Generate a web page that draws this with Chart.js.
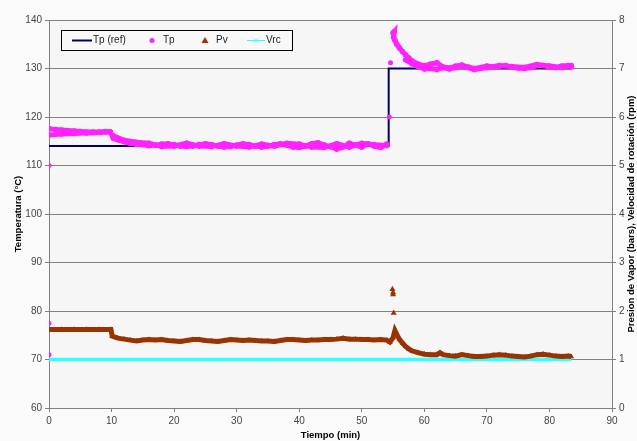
<!DOCTYPE html>
<html>
<head>
<meta charset="utf-8">
<script src="https://cdn.jsdelivr.net/npm/chart.js@4/dist/chart.umd.min.js"></script>
<style>
  body { margin: 0; background: #fafafa; }
  #wrap { width: 637px; height: 441px; }
</style>
</head>
<body>
<div id="wrap"><canvas id="tempChart"></canvas></div>
<script>
// Tp (ref) - set point
const refTime = [0, 54.2, 54.2, 54.35, 54.35, 83.5];
const refTemp = [114, 114, 122, 122, 130, 130];

// Tp - measured temperature (null = break between tracks)
const tpTime = [
  0, 1, 2, 3, 4, 5, 6, 7, 8, 9, 9.8, null,
  0, 2, 4, 6, 8, 9.8, 10.3, 11, 12, 13, 14, 15, 16, 17, 18, 19, 20, 21, 22, 23, 24, 25, 26, 27, 28, 29, 30,
  31, 32, 33, 34, 35, 36, 37, 38, 39, 40, 41, 42, 43, 44, 45, 46, 47, 48, 49, 50, 51, 52, 53, 54, null,
  10.2, 12, 14, 16, 18, 20, 22, 24, 26, 28, 30, 32, 34, 36, 38, 40, 42, 44, 46, 48, 50, 52, 54, null,
  55.0, 55.2, 55.1, 55.3, 55.6, 56, 56.5, 57, 57.5, 58, 58.5, 59, 60, 61, 62, 63, 64, 65, 66, 67, 68, 69, 70,
  71, 72, 73, 74, 75, 76, 77, 78, 79, 80, 81, 82, 83, 83.5, null,
  57, 58, 59, 60, 61, 62, 63, 64, 65, 66, 68, 70, 72, 74, 76, 78, 80, 82, 83.5
];
const tpTemp = [
  117.6, 117.4, 117.3, 117.2, 117.1, 117.0, 116.9, 116.9, 116.9, 117.0, 116.9, null,
  116.3, 116.5, 116.6, 116.7, 116.8, 116.9, 115.6, 115.3, 114.9, 114.6, 114.4, 114.3, 114.1, 114.2, 114.4, 114.5, 114.3, 114.0, 113.9, 114.0, 114.3, 114.5, 114.3, 114.0, 113.8, 113.9, 114.2,
  114.5, 114.3, 114.0, 113.8, 114.0, 114.3, 114.5, 114.2, 113.8, 113.7, 114.0, 114.5, 114.7, 114.2, 113.9, 113.4, 113.8, 114.6, 114.2, 113.8, 114.5, 114.0, 113.7, 114.4, null,
  116.2, 115.2, 114.8, 114.6, 113.9, 114.0, 114.6, 114.0, 113.9, 114.5, 114.0, 113.8, 114.4, 114.0, 114.6, 114.4, 113.8, 113.7, 114.5, 113.8, 114.6, 114.3, 114.1, null,
  137.3, 137.6, 136.4, 135.8, 135.0, 134.3, 133.5, 132.8, 132.2, 131.6, 131.2, 130.9, 130.6, 130.9, 131.2, 130.3, 130.1, 130.5, 130.7, 130.3, 130.0, 130.2, 130.5,
  130.3, 130.5, 130.6, 130.3, 130.1, 130.0, 130.2, 130.6, 130.6, 130.3, 130.2, 130.5, 130.6, 130.3, null,
  131.8, 131.0, 130.4, 129.9, 130.0, 129.8, 130.2, 129.9, 130.2, 130.5, 129.8, 130.2, 130.6, 130.4, 130.2, 130.8, 130.5, 130.2, 130.6
];

// Tp - isolated readings
const tpOutTime = [0, 0, 0, 54.4, 54.6];
const tpOutTemp = [110, 77.5, 71, 120, 131.2];

// Pv - vapour pressure (bars)
const pvTime = [
  0, 2, 4, 6, 8, 9.9, 10.1, 11, 12, 13, 14, 15, 16, 17, 18, 19, 20, 21, 22, 23, 24, 25, 26, 27, 28, 29, 30,
  31, 32, 33, 34, 35, 36, 37, 38, 39, 40, 41, 42, 43, 44, 45, 46, 47, 48, 49, 50, 51, 52, 53, 54, 54.5,
  55, 55.3, 55.6, 56, 56.5, 57, 57.5, 58, 59, 60, 61, 62, 62.5, 63, 64, 65, 66, 67, 68, 69, 70,
  71, 72, 73, 74, 75, 76, 77, 78, 79, 80, 81, 82, 83, 83.5
];
const pvBar = [
  1.62, 1.62, 1.62, 1.62, 1.62, 1.62, 1.48, 1.44, 1.42, 1.40, 1.38, 1.40, 1.41, 1.40, 1.41, 1.39, 1.38, 1.37, 1.39, 1.41, 1.41, 1.39, 1.38, 1.37, 1.39, 1.41, 1.40,
  1.39, 1.40, 1.39, 1.38, 1.38, 1.37, 1.39, 1.41, 1.41, 1.40, 1.39, 1.40, 1.40, 1.41, 1.41, 1.42, 1.44, 1.42, 1.42, 1.41, 1.41, 1.40, 1.41, 1.40, 1.36,
  1.45, 1.60, 1.52, 1.42, 1.34, 1.27, 1.22, 1.18, 1.14, 1.11, 1.10, 1.10, 1.14, 1.10, 1.08, 1.07, 1.10, 1.08, 1.06, 1.06, 1.07,
  1.09, 1.10, 1.09, 1.07, 1.06, 1.05, 1.07, 1.10, 1.11, 1.09, 1.07, 1.06, 1.07, 1.06
];

// Pv - spike readings
const pvOutTime = [54.9, 55.0, 55.0, 55.1];
const pvOutBar = [2.45, 2.38, 2.34, 1.96];

// Vrc - rotation speed (rpm)
const vrcTime = [0, 83.5];
const vrcRpm = [1, 1];

const rightTitle = 'Presion de Vapor (bars), Velocidad de rotación (rpm)';

const toXY = (xs, ys) => xs.map((x, i) => ({ x: x, y: ys[i] }));

const FONT = "'Liberation Sans', Arial, sans-serif";
Chart.defaults.font.family = FONT;
Chart.defaults.color = '#444';

const bgPlugin = {
  id: 'bgPlugin',
  beforeDraw(chart) {
    const { ctx, chartArea } = chart;
    ctx.save();
    ctx.fillStyle = '#fafafa';
    ctx.fillRect(0, 0, chart.width, chart.height);
    ctx.fillStyle = '#f6f6f6';
    ctx.fillRect(chartArea.left, chartArea.top, chartArea.right - chartArea.left, chartArea.bottom - chartArea.top);
    ctx.restore();
  }
};

// right axis title reads bottom to top, like the left one
const rightTitlePlugin = {
  id: 'rightTitle',
  afterDraw(chart) {
    const { ctx, chartArea } = chart;
    ctx.save();
    ctx.translate(chart.width - 5.5, (chartArea.top + chartArea.bottom) / 2);
    ctx.rotate(-Math.PI / 2);
    ctx.font = 'bold 9.5px ' + FONT;
    ctx.fillStyle = '#000';
    ctx.textAlign = 'center';
    ctx.textBaseline = 'middle';
    ctx.fillText(rightTitle, 0, 0);
    ctx.restore();
  }
};

// legend box drawn inside the plot, top left
const legendBox = {
  id: 'legendBox',
  afterDraw(chart) {
    const { ctx, chartArea } = chart;
    const ds = chart.data.datasets;
    const x0 = chartArea.left + 12, y0 = chartArea.top + 10;
    const cy = y0 + 10.5;
    ctx.save();
    ctx.fillStyle = '#f8f8f8';
    ctx.fillRect(x0, y0, 231, 20);
    ctx.strokeStyle = '#000';
    ctx.lineWidth = 1;
    ctx.strokeRect(x0 + 0.5, y0 + 0.5, 231, 20);

    ctx.font = '10px ' + FONT;
    ctx.fillStyle = '#222';
    ctx.textBaseline = 'middle';

    // Tp (ref)
    ctx.strokeStyle = ds[0].borderColor;
    ctx.lineWidth = 2;
    ctx.beginPath(); ctx.moveTo(x0 + 11, cy); ctx.lineTo(x0 + 31, cy); ctx.stroke();
    ctx.fillText(ds[0].label, x0 + 32, cy);

    // Tp
    ctx.fillStyle = ds[1].pointBackgroundColor;
    ctx.beginPath(); ctx.arc(x0 + 91, cy, 2.5, 0, Math.PI * 2); ctx.fill();
    ctx.fillStyle = '#222';
    ctx.fillText(ds[1].label, x0 + 102, cy);

    // Pv
    ctx.fillStyle = ds[3].pointBackgroundColor;
    ctx.beginPath();
    ctx.moveTo(x0 + 144, cy - 3.5); ctx.lineTo(x0 + 147.5, cy + 2.5); ctx.lineTo(x0 + 140.5, cy + 2.5);
    ctx.closePath(); ctx.fill();
    ctx.fillStyle = '#222';
    ctx.fillText(ds[3].label, x0 + 155, cy);

    // Vrc
    ctx.strokeStyle = ds[5].borderColor;
    ctx.lineWidth = 1;
    ctx.beginPath(); ctx.moveTo(x0 + 186, cy); ctx.lineTo(x0 + 204, cy); ctx.stroke();
    ctx.beginPath();
    ctx.moveTo(x0 + 193, cy - 2); ctx.lineTo(x0 + 197, cy + 2);
    ctx.moveTo(x0 + 197, cy - 2); ctx.lineTo(x0 + 193, cy + 2);
    ctx.stroke();
    ctx.fillStyle = '#222';
    ctx.fillText(ds[5].label, x0 + 205, cy);
    ctx.restore();
  }
};

const ctx = document.getElementById('tempChart').getContext('2d');

new Chart(ctx, {
  type: 'scatter',
  data: {
    datasets: [{
      label: 'Tp (ref)',
      data: toXY(refTime, refTemp),
      showLine: true,
      borderColor: '#000066',
      borderWidth: 2,
      pointRadius: 0,
      yAxisID: 'y',
      order: 2
    }, {
      label: 'Tp',
      data: toXY(tpTime, tpTemp),
      showLine: true,
      spanGaps: false,
      borderColor: '#ff22ff',
      borderWidth: 5,
      pointRadius: 2.8,
      pointBackgroundColor: '#ff22ff',
      pointBorderWidth: 0,
      yAxisID: 'y',
      order: 1
    }, {
      label: 'Tp',
      data: toXY(tpOutTime, tpOutTemp),
      borderColor: '#ff22ff',
      pointRadius: 2.5,
      pointBackgroundColor: '#ff22ff',
      pointBorderWidth: 0,
      yAxisID: 'y',
      order: 1
    }, {
      label: 'Pv',
      data: toXY(pvTime, pvBar),
      showLine: true,
      borderColor: '#993300',
      borderWidth: 5,
      pointStyle: 'triangle',
      pointRadius: 3.2,
      pointBackgroundColor: '#993300',
      pointBorderWidth: 0,
      yAxisID: 'y1',
      order: 3
    }, {
      label: 'Pv',
      data: toXY(pvOutTime, pvOutBar),
      pointStyle: 'triangle',
      pointRadius: 3.5,
      pointBackgroundColor: '#993300',
      pointBorderWidth: 0,
      yAxisID: 'y1',
      order: 3
    }, {
      label: 'Vrc',
      data: toXY(vrcTime, vrcRpm),
      showLine: true,
      borderColor: '#33ffff',
      borderWidth: 3.5,
      pointRadius: 0,
      yAxisID: 'y1',
      order: 4
    }]
  },
  options: {
    responsive: true,
    maintainAspectRatio: false,
    animation: false,
    layout: { padding: { top: 20, left: 0, right: 0, bottom: 0 } },
    plugins: {
      legend: { display: false },
      tooltip: { enabled: false }
    },
    scales: {
      x: {
        type: 'linear',
        min: 0,
        max: 90,
        ticks: { stepSize: 10, font: { size: 10 }, padding: 3 },
        grid: { drawOnChartArea: false, tickLength: 4, color: '#808080' },
        border: { color: '#808080' },
        title: {
          display: true,
          text: 'Tiempo (min)',
          color: '#000',
          font: { size: 9.5, weight: 'bold' },
          padding: { top: 0, bottom: 0 }
        },
        afterFit(scale) { scale.height = 33; }
      },
      y: {
        position: 'left',
        min: 60,
        max: 140,
        ticks: { stepSize: 10, font: { size: 10 }, padding: 3 },
        grid: { color: '#808080', tickLength: 4 },
        border: { color: '#808080' },
        title: {
          display: true,
          text: 'Temperatura (°C)',
          color: '#000',
          font: { size: 9.5, weight: 'bold' },
          padding: { top: 13, bottom: 0 }
        },
        afterFit(scale) { scale.width = 49; }
      },
      y1: {
        position: 'right',
        min: 0,
        max: 8,
        ticks: { stepSize: 1, font: { size: 10 }, padding: 3 },
        grid: { drawOnChartArea: false, tickLength: 4, color: '#808080' },
        border: { color: '#808080' },
        afterFit(scale) { scale.width = 25; }
      }
    }
  },
  plugins: [bgPlugin, legendBox, rightTitlePlugin]
});
</script>
</body>
</html>
